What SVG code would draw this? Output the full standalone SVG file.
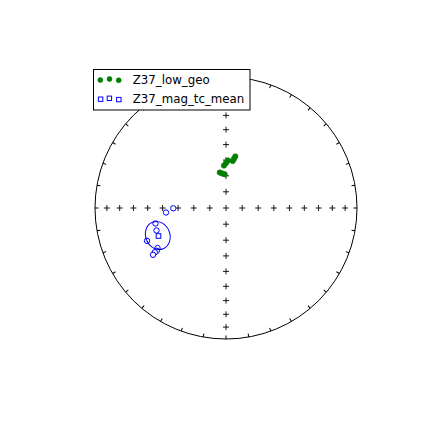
<svg xmlns="http://www.w3.org/2000/svg" xmlns:xlink="http://www.w3.org/1999/xlink" width="424" height="426" viewBox="0 0 424 426">
<style>
.net{fill:none;stroke:#000;stroke-width:1}
.cr{stroke:#000;stroke-width:0.9;fill:none}
.g{fill:#008000;stroke:#008000;stroke-width:0.6}
.b{fill:#fff;stroke:#0000ff;stroke-width:1}
.lt{font-family:"DejaVu Sans",sans-serif;font-size:11.8px;fill:#000}
</style>
<defs>
<line id="tick" x1="226" y1="77" x2="226" y2="80.5" class="net"/>
<path id="cross" d="M-3,0H3M0,-3V3" class="cr"/>
</defs>
<rect width="424" height="426" fill="#fff"/>
<g id="net">
<circle cx="226" cy="208" r="131" class="net"/>
<g id="ticks">
<use xlink:href="#tick"/>
<use xlink:href="#tick" transform="rotate(10 226 208)"/>
<use xlink:href="#tick" transform="rotate(20 226 208)"/>
<use xlink:href="#tick" transform="rotate(30 226 208)"/>
<use xlink:href="#tick" transform="rotate(40 226 208)"/>
<use xlink:href="#tick" transform="rotate(50 226 208)"/>
<use xlink:href="#tick" transform="rotate(60 226 208)"/>
<use xlink:href="#tick" transform="rotate(70 226 208)"/>
<use xlink:href="#tick" transform="rotate(80 226 208)"/>
<use xlink:href="#tick" transform="rotate(90 226 208)"/>
<use xlink:href="#tick" transform="rotate(100 226 208)"/>
<use xlink:href="#tick" transform="rotate(110 226 208)"/>
<use xlink:href="#tick" transform="rotate(120 226 208)"/>
<use xlink:href="#tick" transform="rotate(130 226 208)"/>
<use xlink:href="#tick" transform="rotate(140 226 208)"/>
<use xlink:href="#tick" transform="rotate(150 226 208)"/>
<use xlink:href="#tick" transform="rotate(160 226 208)"/>
<use xlink:href="#tick" transform="rotate(170 226 208)"/>
<use xlink:href="#tick" transform="rotate(180 226 208)"/>
<use xlink:href="#tick" transform="rotate(190 226 208)"/>
<use xlink:href="#tick" transform="rotate(200 226 208)"/>
<use xlink:href="#tick" transform="rotate(210 226 208)"/>
<use xlink:href="#tick" transform="rotate(220 226 208)"/>
<use xlink:href="#tick" transform="rotate(230 226 208)"/>
<use xlink:href="#tick" transform="rotate(240 226 208)"/>
<use xlink:href="#tick" transform="rotate(250 226 208)"/>
<use xlink:href="#tick" transform="rotate(260 226 208)"/>
<use xlink:href="#tick" transform="rotate(270 226 208)"/>
<use xlink:href="#tick" transform="rotate(280 226 208)"/>
<use xlink:href="#tick" transform="rotate(290 226 208)"/>
<use xlink:href="#tick" transform="rotate(300 226 208)"/>
<use xlink:href="#tick" transform="rotate(310 226 208)"/>
<use xlink:href="#tick" transform="rotate(320 226 208)"/>
<use xlink:href="#tick" transform="rotate(330 226 208)"/>
<use xlink:href="#tick" transform="rotate(340 226 208)"/>
<use xlink:href="#tick" transform="rotate(350 226 208)"/>
</g>
<g id="crosses">
<use xlink:href="#cross" x="226" y="88.9"/>
<use xlink:href="#cross" x="226" y="101.7"/>
<use xlink:href="#cross" x="226" y="115.4"/>
<use xlink:href="#cross" x="226" y="129.7"/>
<use xlink:href="#cross" x="226" y="144.6"/>
<use xlink:href="#cross" x="226" y="160.1"/>
<use xlink:href="#cross" x="226" y="175.8"/>
<use xlink:href="#cross" x="226" y="191.8"/>
<use xlink:href="#cross" x="226" y="208"/>
<use xlink:href="#cross" x="226" y="224.2"/>
<use xlink:href="#cross" x="226" y="240.2"/>
<use xlink:href="#cross" x="226" y="255.9"/>
<use xlink:href="#cross" x="226" y="271.4"/>
<use xlink:href="#cross" x="226" y="286.3"/>
<use xlink:href="#cross" x="226" y="300.6"/>
<use xlink:href="#cross" x="226" y="314.3"/>
<use xlink:href="#cross" x="226" y="327.1"/>
<use xlink:href="#cross" x="242.2" y="208"/>
<use xlink:href="#cross" x="258.2" y="208"/>
<use xlink:href="#cross" x="273.9" y="208"/>
<use xlink:href="#cross" x="289.4" y="208"/>
<use xlink:href="#cross" x="304.3" y="208"/>
<use xlink:href="#cross" x="318.6" y="208"/>
<use xlink:href="#cross" x="332.3" y="208"/>
<use xlink:href="#cross" x="345.1" y="208"/>
<use xlink:href="#cross" x="209.8" y="208"/>
<use xlink:href="#cross" x="193.8" y="208"/>
<use xlink:href="#cross" x="178.1" y="208"/>
<use xlink:href="#cross" x="162.6" y="208"/>
<use xlink:href="#cross" x="147.7" y="208"/>
<use xlink:href="#cross" x="133.4" y="208"/>
<use xlink:href="#cross" x="119.7" y="208"/>
<use xlink:href="#cross" x="106.9" y="208"/>
</g>
</g>
<g id="Z37_low_geo">
<circle class="g" cx="235.3" cy="156.5" r="2.7"/>
<circle class="g" cx="234" cy="158.8" r="2.7"/>
<circle class="g" cx="232.7" cy="161" r="2.7"/>
<circle class="g" cx="228" cy="160.5" r="2.7"/>
<circle class="g" cx="226" cy="163" r="2.7"/>
<circle class="g" cx="224" cy="165.5" r="2.7"/>
<circle class="g" cx="219.8" cy="172.5" r="2.7"/>
<circle class="g" cx="222.2" cy="173.5" r="2.7"/>
<circle class="g" cx="224.6" cy="174.2" r="2.7"/>
</g>
<g id="Z37_mag_tc_mean">
<circle class="b" cx="166" cy="212.5" r="2.7"/>
<circle class="b" cx="173.3" cy="208.3" r="2.7"/>
<circle class="b" cx="155.5" cy="223.5" r="2.7"/>
<circle class="b" cx="156.5" cy="230.5" r="2.7"/>
<circle class="b" cx="147" cy="240.8" r="2.7"/>
<circle class="b" cx="157.5" cy="248" r="2.7"/>
<circle class="b" cx="156.8" cy="250.8" r="2.7"/>
<circle class="b" cx="154.8" cy="252.3" r="2.7"/>
<circle class="b" cx="153" cy="254.8" r="2.7"/>
<rect class="b" x="156.2" y="233.7" width="4.6" height="4.6"/>
<ellipse cx="157.8" cy="235.5" rx="12.1" ry="14.3" transform="rotate(-22 157.8 235.5)" fill="none" stroke="#0000ff" stroke-width="1"/>
</g>
<g id="legend">
<rect x="93.5" y="69.5" width="156.5" height="40.5" fill="#fff" stroke="#000" stroke-width="1"/>
<circle class="g" cx="100.3" cy="80" r="2.5"/>
<circle class="g" cx="109.5" cy="79" r="2.5"/>
<circle class="g" cx="118.7" cy="80.3" r="2.5"/>
<text class="lt" x="132.7" y="84.3">Z37_low_geo</text>
<rect class="b" x="98.4" y="97" width="4.4" height="4.4"/>
<rect class="b" x="107.2" y="96.1" width="4.4" height="4.4"/>
<rect class="b" x="116.6" y="97.4" width="4.4" height="4.4"/>
<text class="lt" x="132.7" y="103">Z37_mag_tc_mean</text>
</g>
</svg>
